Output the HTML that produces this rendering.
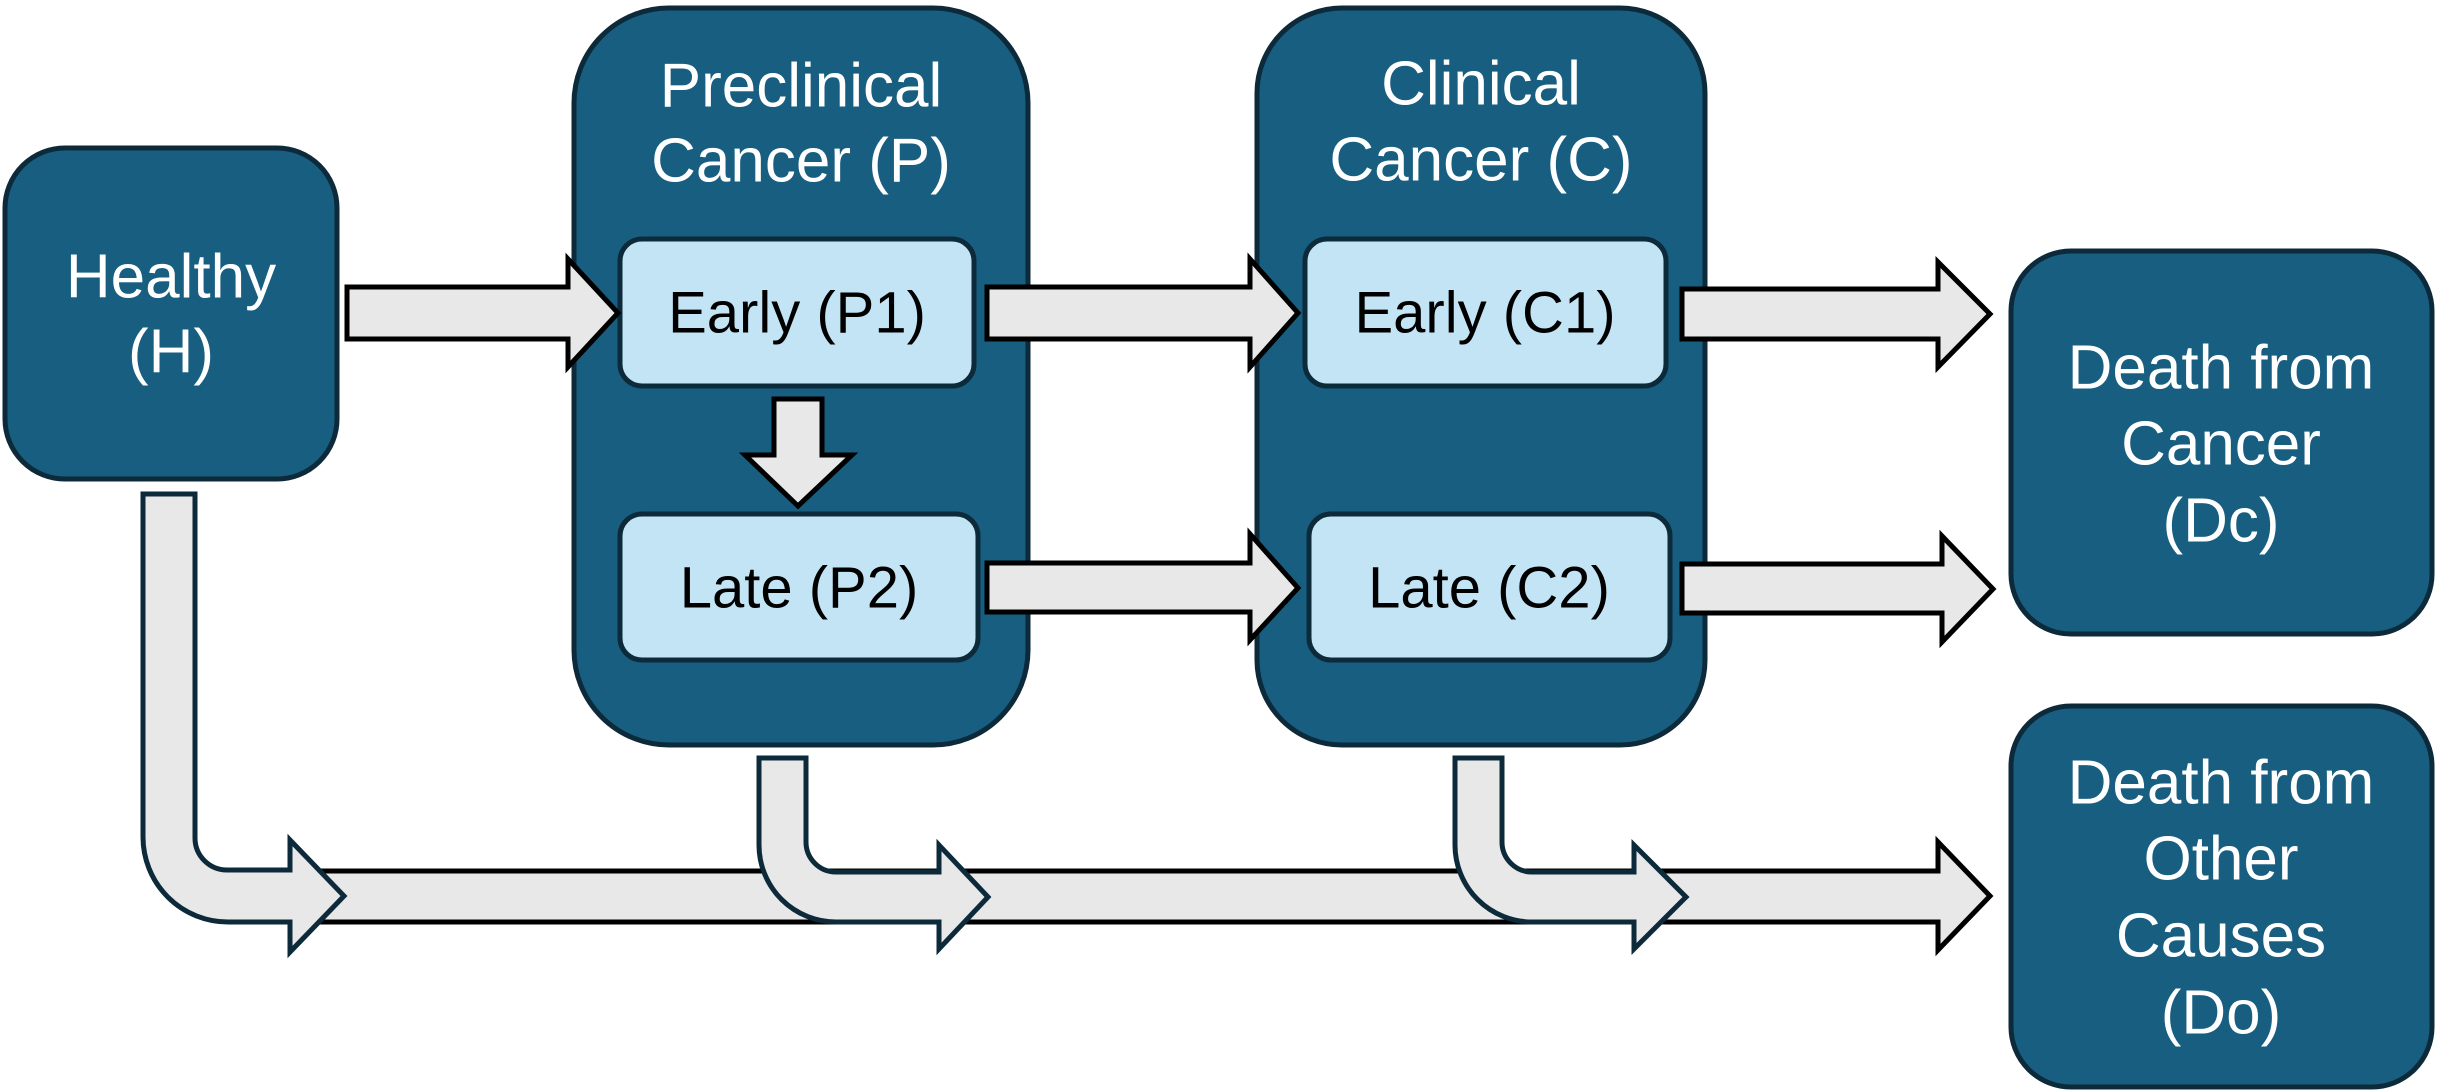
<!DOCTYPE html>
<html><head><meta charset="utf-8"><style>
html,body{margin:0;padding:0;background:#fff;}
svg{display:block;}
.w{fill:#fff;font-family:"Liberation Sans",sans-serif;font-size:62px;text-anchor:middle;dominant-baseline:central;}
.k{fill:#000;font-family:"Liberation Sans",sans-serif;font-size:58px;text-anchor:middle;dominant-baseline:central;}
.box{fill:#175e80;stroke:#0d2a3a;stroke-width:5;}
.in{fill:#c2e4f4;stroke:#0d2a3a;stroke-width:5;}
.ar{fill:#e8e8e8;stroke:#000;stroke-width:5;stroke-linejoin:miter;}
.br{fill:#e8e8e8;stroke:#0d2a3a;stroke-width:5;}
</style></head><body>
<svg width="2438" height="1090" viewBox="0 0 2438 1090" xmlns="http://www.w3.org/2000/svg">
<rect class="box" x="5" y="148" width="332" height="331" rx="60"/>
<rect class="box" x="574" y="8" width="454" height="737" rx="95"/>
<rect class="box" x="1257" y="8" width="448" height="737" rx="85"/>
<rect class="box" x="2011" y="251" width="421" height="383" rx="60"/>
<rect class="box" x="2011" y="706" width="421" height="381" rx="60"/>
<rect class="in" x="620" y="239" width="354" height="147" rx="22"/>
<rect class="in" x="620" y="514" width="358" height="146" rx="22"/>
<rect class="in" x="1305" y="239" width="361" height="147" rx="22"/>
<rect class="in" x="1309" y="514" width="361" height="146" rx="22"/>

<path class="ar" d="M347 287 L568 287 L568 259 L618 313 L568 367 L568 339 L347 339 Z"/>
<path class="ar" d="M987 287 L1250 287 L1250 259 L1298 313 L1250 367 L1250 339 L987 339 Z"/>
<path class="ar" d="M987 563 L1250 563 L1250 534 L1298 588 L1250 640 L1250 612 L987 612 Z"/>
<path class="ar" d="M1682 289 L1938 289 L1938 262 L1990 314 L1938 367 L1938 339 L1682 339 Z"/>
<path class="ar" d="M1682 564 L1942 564 L1942 536 L1993 589 L1942 642 L1942 613 L1682 613 Z"/>
<path class="ar" d="M774 399 L822 399 L822 455 L852 455 L798 506 L745 455 L774 455 Z"/>
<path class="ar" d="M300 871 L1938 871 L1938 842 L1990 896 L1938 950 L1938 922 L300 922 Z"/>

<path class="br" d="M143 494 L195 494 L195 838 A32 32 0 0 0 227 870 L290 870 L290 840 L344 896 L290 952 L290 922 L228 922 A85 85 0 0 1 143 837 Z"/>
<path class="br" d="M759 758 L806 758 L806 842 A30 30 0 0 0 836 872 L939 872 L939 845 L988 897 L939 949 L939 922 L836 922 A77 77 0 0 1 759 845 Z"/>
<path class="br" d="M1455 758 L1502 758 L1502 842 A30 30 0 0 0 1532 872 L1634 872 L1634 845 L1686 897 L1634 949 L1634 922 L1532 922 A77 77 0 0 1 1455 845 Z"/>

<text class="w" x="171" y="277">Healthy</text>
<text class="w" x="171" y="352">(H)</text>
<text class="w" x="801" y="86">Preclinical</text>
<text class="w" x="801" y="161">Cancer (P)</text>
<text class="w" x="1481" y="84">Clinical</text>
<text class="w" x="1481" y="160">Cancer (C)</text>
<text class="k" x="797" y="313">Early (P1)</text>
<text class="k" x="799" y="588">Late (P2)</text>
<text class="k" x="1485" y="313">Early (C1)</text>
<text class="k" x="1489" y="588">Late (C2)</text>
<text class="w" x="2221" y="368">Death from</text>
<text class="w" x="2221" y="444">Cancer</text>
<text class="w" x="2221" y="521">(Dc)</text>
<text class="w" x="2221" y="783">Death from</text>
<text class="w" x="2221" y="859">Other</text>
<text class="w" x="2221" y="936">Causes</text>
<text class="w" x="2221" y="1013">(Do)</text>
</svg>
</body></html>
